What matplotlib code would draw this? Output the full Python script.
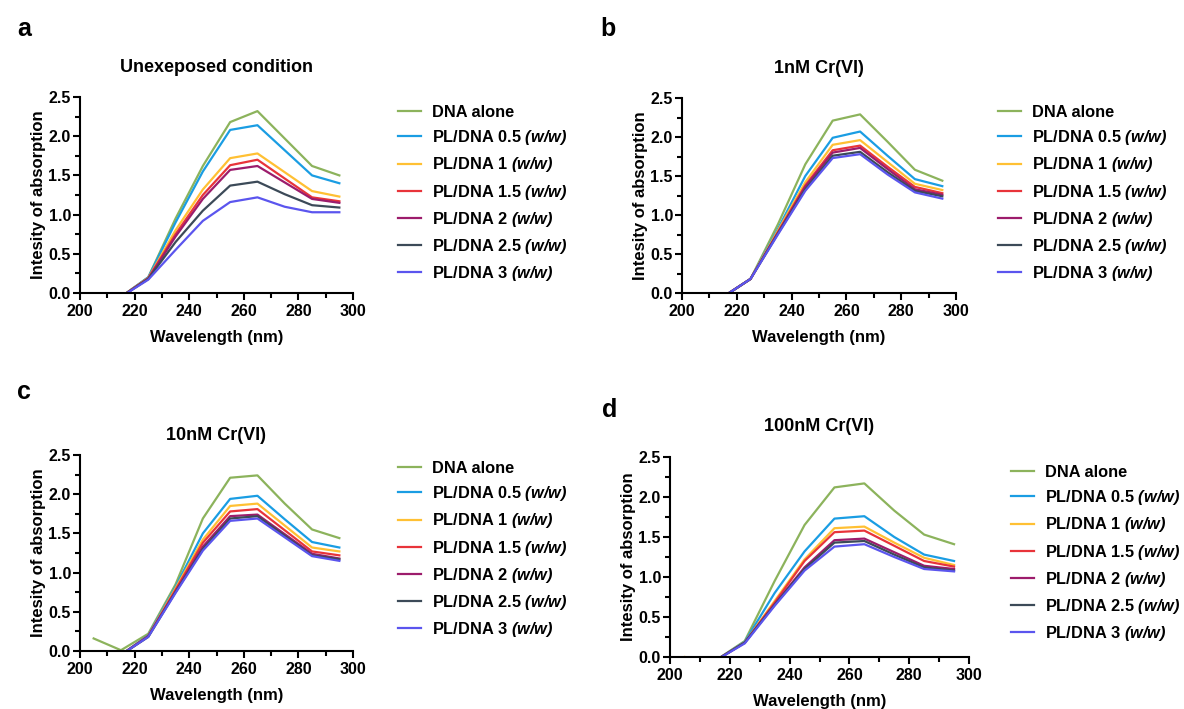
import matplotlib
matplotlib.use("Agg")
import matplotlib.pyplot as plt
from matplotlib.ticker import MultipleLocator

plt.rcParams["font.family"] = "Liberation Sans"
plt.rcParams["font.weight"] = "bold"
plt.rcParams["mathtext.fontset"] = "custom"
plt.rcParams["mathtext.it"] = "Liberation Sans:bold:italic"
plt.rcParams["mathtext.rm"] = "Liberation Sans:bold:italic"

wavelength = [205, 215, 225, 235, 245, 255, 265, 275, 285, 295]

series_names = ["DNA alone", "PL/DNA 0.5", "PL/DNA 1", "PL/DNA 1.5",
                "PL/DNA 2", "PL/DNA 2.5", "PL/DNA 3"]
colors = ["#8cb35c", "#1a9de3", "#ffc033", "#e8343a", "#9c1c6c", "#3c4a58", "#5b55ee"]

# panel a: unexposed
unexposed = [
    [-0.05, -0.05, 0.20, 0.95, 1.62, 2.18, 2.32, 1.97, 1.62, 1.50],
    [-0.05, -0.05, 0.20, 0.90, 1.55, 2.08, 2.14, 1.82, 1.50, 1.40],
    [-0.05, -0.05, 0.19, 0.80, 1.32, 1.72, 1.78, 1.54, 1.30, 1.23],
    [-0.05, -0.05, 0.19, 0.75, 1.25, 1.63, 1.70, 1.46, 1.22, 1.17],
    [-0.05, -0.05, 0.18, 0.72, 1.20, 1.57, 1.62, 1.41, 1.20, 1.15],
    [-0.05, -0.05, 0.18, 0.65, 1.05, 1.37, 1.42, 1.26, 1.12, 1.09],
    [-0.05, -0.05, 0.17, 0.55, 0.92, 1.16, 1.22, 1.10, 1.03, 1.03],
]
# panel b: 1nM Cr(VI)
cr_1nm = [
    [-0.05, -0.05, 0.18, 0.88, 1.65, 2.21, 2.29, 1.94, 1.58, 1.44],
    [-0.05, -0.05, 0.18, 0.82, 1.50, 1.99, 2.07, 1.76, 1.46, 1.37],
    [-0.05, -0.05, 0.18, 0.80, 1.42, 1.90, 1.96, 1.68, 1.40, 1.32],
    [-0.05, -0.05, 0.18, 0.78, 1.38, 1.83, 1.89, 1.62, 1.36, 1.28],
    [-0.05, -0.05, 0.18, 0.77, 1.36, 1.80, 1.86, 1.59, 1.33, 1.26],
    [-0.05, -0.05, 0.18, 0.76, 1.33, 1.76, 1.81, 1.55, 1.31, 1.24],
    [-0.05, -0.05, 0.18, 0.75, 1.31, 1.73, 1.78, 1.52, 1.29, 1.21],
]
# panel c: 10nM Cr(VI)
cr_10nm = [
    [0.16, 0.01, 0.22, 0.85, 1.69, 2.21, 2.24, 1.88, 1.55, 1.44],
    [-0.05, -0.05, 0.20, 0.82, 1.50, 1.94, 1.98, 1.68, 1.39, 1.32],
    [-0.05, -0.05, 0.19, 0.80, 1.42, 1.85, 1.88, 1.60, 1.32, 1.27],
    [-0.05, -0.05, 0.19, 0.78, 1.38, 1.78, 1.81, 1.54, 1.27, 1.22],
    [-0.05, -0.05, 0.19, 0.76, 1.33, 1.72, 1.74, 1.49, 1.24, 1.18],
    [-0.05, -0.05, 0.18, 0.75, 1.30, 1.69, 1.72, 1.47, 1.22, 1.17],
    [-0.05, -0.05, 0.18, 0.74, 1.28, 1.66, 1.69, 1.45, 1.21, 1.15],
]
# panel d: 100nM Cr(VI)
cr_100nm = [
    [-0.05, -0.05, 0.20, 0.95, 1.65, 2.12, 2.17, 1.83, 1.53, 1.41],
    [-0.05, -0.05, 0.19, 0.80, 1.32, 1.73, 1.76, 1.50, 1.28, 1.20],
    [0.00, -0.05, 0.18, 0.70, 1.22, 1.61, 1.63, 1.43, 1.24, 1.15],
    [-0.05, -0.05, 0.18, 0.68, 1.20, 1.56, 1.58, 1.39, 1.20, 1.13],
    [-0.05, -0.05, 0.18, 0.66, 1.12, 1.46, 1.48, 1.31, 1.14, 1.10],
    [-0.05, -0.05, 0.18, 0.65, 1.10, 1.43, 1.45, 1.28, 1.12, 1.08],
    [-0.05, -0.05, 0.17, 0.64, 1.08, 1.38, 1.41, 1.25, 1.10, 1.07],
]

titles = ["Unexeposed condition", "1nM Cr(VI)", "10nM Cr(VI)", "100nM Cr(VI)"]
panel_letters = ["a", "b", "c", "d"]
panel_data = [unexposed, cr_1nm, cr_10nm, cr_100nm]

W, H = 1184, 709
fig = plt.figure(figsize=(W / 100, H / 100), dpi=100)

# axes boxes in pixels: left, top(2.5), right(300), bottom(0.0)
boxes = [(80, 97, 353, 293), (682, 98, 956, 293), (80, 455, 353, 651), (670, 457, 969, 657)]
legend_pos = [(398, 105), (998, 105), (398, 461), (1011, 465)]
letter_pos = [(17, 29), (600, 29), (17, 392), (602, 410)]
title_pads = [18, 18, 11, 19]

for i in range(4):
    l, t, r, b = boxes[i]
    ax = fig.add_axes([l / W, 1 - b / H, (r - l) / W, (b - t) / H])
    for name, col, vals in zip(series_names, colors, panel_data[i]):
        if name == "DNA alone":
            label = name
        else:
            label = name + r" $\mathit{(w/w)}$"
        ax.plot(wavelength, vals, color=col, lw=1.6, label=label)
    ax.set_xlim(200, 300)
    ax.set_ylim(0, 2.5)
    ax.xaxis.set_major_locator(MultipleLocator(20))
    ax.xaxis.set_minor_locator(MultipleLocator(10))
    ax.yaxis.set_major_locator(MultipleLocator(0.5))
    ax.yaxis.set_minor_locator(MultipleLocator(0.25))
    ax.yaxis.set_major_formatter(plt.FuncFormatter(lambda v, p: f"{v:.1f}"))
    for s in ["top", "right"]:
        ax.spines[s].set_visible(False)
    for s in ["left", "bottom"]:
        ax.spines[s].set_linewidth(1.5)
    ax.tick_params(which="major", length=5, width=1.5, labelsize=11.5)
    ax.tick_params(axis="x", pad=3)
    ax.tick_params(axis="y", pad=1.5)
    ax.tick_params(which="minor", length=3.5, width=1.5)
    ax.set_xlabel("Wavelength (nm)", fontsize=12, fontweight="bold", labelpad=8)
    ax.set_ylabel("Intesity of absorption", fontsize=12, fontweight="bold", labelpad=2)
    ax.set_title(titles[i], fontsize=13, fontweight="bold", pad=title_pads[i])
    lx, ly = legend_pos[i]
    ax.legend(loc="upper left", bbox_to_anchor=(lx / W, 1 - ly / H),
              bbox_transform=fig.transFigure, frameon=False, fontsize=11.8,
              handlelength=1.4, handletextpad=0.7, labelspacing=0.5,
              borderpad=0, borderaxespad=0)
    px, py = letter_pos[i]
    fig.text(px / W, 1 - py / H, panel_letters[i], fontsize=18, fontweight="bold",
             va="center", ha="left")

fig.savefig("out.png", dpi=100)
